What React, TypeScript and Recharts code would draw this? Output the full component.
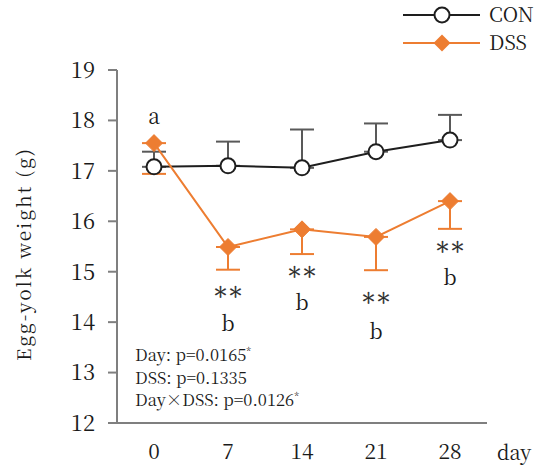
import React from 'react';
import { LineChart, Line, XAxis, YAxis, ErrorBar, ReferenceDot, Legend, Customized } from 'recharts';

const days = ['0', '7', '14', '21', '28'];
const conMean = [17.08, 17.1, 17.06, 17.38, 17.61];
const conErrUp = [0.3, 0.48, 0.76, 0.56, 0.5];
const dssMean = [17.55, 15.49, 15.84, 15.69, 16.4];
const dssErrDown = [0.61, 0.45, 0.49, 0.66, 0.55];
const yTicks = [12, 13, 14, 15, 16, 17, 18, 19];

const letterDays = ['0', '7', '14', '21', '28'];
const letterText = ['a', 'b', 'b', 'b', 'b'];
const letterPos = [18.07, 13.98, 14.39, 13.81, 14.88];
const starDays = ['7', '14', '21', '28'];
const starPos = [14.6, 15.0, 14.48, 15.5];

const pLines = [
  { label: 'Day: p=0.0165', sig: true },
  { label: 'DSS: p=0.1335', sig: false },
  { label: 'Day\u00d7DSS: p=0.0126', sig: true },
];

const data = days.map((d, i) => ({
  day: d,
  con: conMean[i],
  conErr: [0, conErrUp[i]],
  dss: dssMean[i],
  dssErr: [dssErrDown[i], 0],
}));

const ORANGE = '#ED7D31';
const BLACK = '#1e1e1e';
const GRAY = '#7f7f7f';
const ERRGRAY = '#595959';
const SERIF = '"Noto Serif CJK JP", "Liberation Serif", serif';

const Diamond = (props: any) => {
  const { cx, cy, index } = props;
  if (cx == null || cy == null) return <g key={`d${index}`} />;
  const s = 8.5;
  return (
    <polygon
      key={`d${index}`}
      points={`${cx},${cy - s} ${cx + s},${cy} ${cx},${cy + s} ${cx - s},${cy}`}
      fill={ORANGE}
      stroke={ORANGE}
      strokeWidth={1}
    />
  );
};

const renderLegend = () => (
  <svg width={138} height={60} style={{ display: 'block', overflow: 'visible' }}>
    <line x1={3} y1={15} x2={80} y2={15} stroke={BLACK} strokeWidth={2} />
    <circle cx={42} cy={15} r={7.5} fill="#fff" stroke={BLACK} strokeWidth={2} />
    <text x={89} y={22} fontFamily={SERIF} fontSize={20} fill="#1a1a1a">CON</text>
    <line x1={3} y1={43} x2={80} y2={43} stroke={ORANGE} strokeWidth={2} />
    <polygon points="42,34.5 50.5,43 42,51.5 33.5,43" fill={ORANGE} />
    <text x={89} y={50} fontFamily={SERIF} fontSize={20} fill="#1a1a1a">DSS</text>
  </svg>
);

const StaticTexts = () => (
  <g fontFamily={SERIF} fill="#1a1a1a">
    <text
      x={22}
      y={254}
      transform="rotate(-90 22 254)"
      textAnchor="middle"
      dominantBaseline="central"
      fontSize={19}
      letterSpacing={2}
      fill="#1a1a1a"
    >
      Egg-yolk weight (g)
    </text>
    <text x={497} y={460} fontSize={20} fill="#1a1a1a">day</text>
    {pLines.map((p, i) => (
      <text key={i} x={135} y={361 + i * 22.5} fontSize={16.5} fill="#1a1a1a">
        {p.label}
        {p.sig ? (
          <tspan fontSize={10} dy={-6}>*</tspan>
        ) : null}
      </text>
    ))}
  </g>
);

export default function App() {
  return (
    <div style={{ position: 'absolute', left: 0, top: 0, width: 538, height: 467, background: '#fff' }}>
      <LineChart
        width={538}
        height={467}
        data={data}
        margin={{ top: 10, right: 51, bottom: 0, left: 0 }}
      >
        <XAxis
          dataKey="day"
          type="category"
          padding={{ left: 37, right: 37 }}
          axisLine={{ stroke: GRAY, strokeWidth: 2 }}
          tickLine={false}
          tickSize={0}
          tickMargin={21}
          height={44}
          tick={{ fontFamily: SERIF, fontSize: 21, fill: '#1a1a1a' }}
          interval={0}
        />
        <YAxis
          domain={[12, 19]}
          ticks={yTicks}
          interval={0}
          width={117}
          axisLine={{ stroke: GRAY, strokeWidth: 2 }}
          tickLine={{ stroke: GRAY, strokeWidth: 2 }}
          tickSize={9}
          tickMargin={13}
          tick={{ fontFamily: SERIF, fontSize: 22, fill: '#1a1a1a' }}
        />
        <Legend
          verticalAlign="top"
          align="right"
          content={renderLegend}
          wrapperStyle={{ position: 'absolute', left: 400, top: 0, width: 138, height: 60 }}
        />
        <Line
          dataKey="dss"
          stroke="none"
          dot={false}
          activeDot={false}
          legendType="none"
          isAnimationActive={false}
        >
          <ErrorBar dataKey="dssErr" direction="y" width={12} stroke={ORANGE} strokeWidth={2} />
        </Line>
        <Line
          dataKey="con"
          stroke={BLACK}
          strokeWidth={2}
          dot={{ r: 7.5, fill: '#fff', stroke: BLACK, strokeWidth: 2 }}
          activeDot={false}
          isAnimationActive={false}
        >
          <ErrorBar dataKey="conErr" direction="y" width={12} stroke={ERRGRAY} strokeWidth={2} />
        </Line>
        <Line
          dataKey="dss"
          stroke={ORANGE}
          strokeWidth={2}
          dot={Diamond}
          activeDot={false}
          isAnimationActive={false}
        />
        {letterDays.map((d, i) => (
          <ReferenceDot
            key={`l${i}`}
            x={d}
            y={letterPos[i]}
            r={0}
            stroke="none"
            fill="none"
            label={{ value: letterText[i], position: 'center', fontFamily: SERIF, fontSize: 21, fill: '#1a1a1a' }}
          />
        ))}
        {starDays.map((d, i) => (
          <ReferenceDot
            key={`s${i}`}
            x={d}
            y={starPos[i]}
            r={0}
            stroke="none"
            fill="none"
            label={{
              value: '\uff0a\uff0a',
              position: 'center',
              fontFamily: SERIF,
              fontSize: 15,
              fill: '#2a2a2a',
              stroke: '#2a2a2a',
              strokeWidth: 0.5,
            }}
          />
        ))}
        <Customized component={StaticTexts} />
      </LineChart>
    </div>
  );
}
